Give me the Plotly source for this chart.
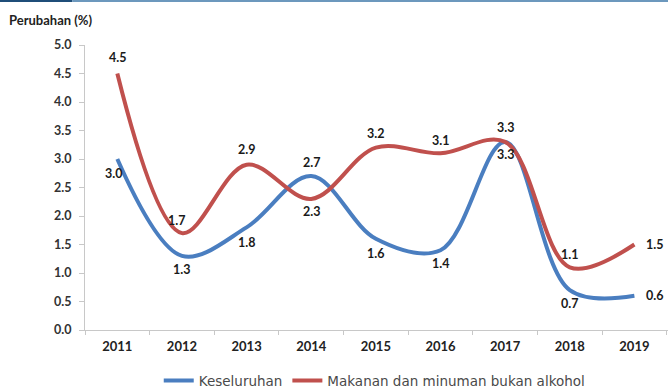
import plotly.graph_objects as go

years = ["2011", "2012", "2013", "2014", "2015", "2016", "2017", "2018", "2019"]
keseluruhan = [3.0, 1.3, 1.8, 2.7, 1.6, 1.4, 3.3, 0.7, 0.6]
makanan = [4.5, 1.7, 2.9, 2.3, 3.2, 3.1, 3.3, 1.1, 1.5]

# label offsets in pixels (dx, dy; dy positive = up)
off_keseluruhan = [(-4, -14), (0, -14), (0, -15), (0, 14), (0, -15), (0, -13), (0, -13), (0, -13), (20, 0)]
off_makanan = [(0, 16), (-5, 13), (0, 15), (0, -13), (0, 14), (0, 13), (0, 14), (0, 13), (20, 0)]

BLUE = "#4A7EC0"
RED = "#C0504D"
FONT = "Lato"

fig = go.Figure()

fig.add_trace(go.Scatter(
  name="Keseluruhan",
  x=years, y=keseluruhan,
  mode="lines",
  line=dict(color=BLUE, width=4, shape="spline", smoothing=1.0),
  cliponaxis=False,
))

fig.add_trace(go.Scatter(
  name="Makanan dan minuman bukan alkohol",
  x=years, y=makanan,
  mode="lines",
  line=dict(color=RED, width=4, shape="spline", smoothing=1.0),
  cliponaxis=False,
))

# value labels (category index used as x so "2011" isn't read as a number)
for vals, offs in [(keseluruhan, off_keseluruhan), (makanan, off_makanan)]:
  for i, (v, (dx, dy)) in enumerate(zip(vals, offs)):
    fig.add_annotation(
      x=i, y=v, text=f"{v:.1f}", showarrow=False,
      xshift=dx, yshift=dy,
      font=dict(family=FONT, size=12.5, color="#1a1a1a", weight="bold"),
    )

fig.update_layout(
  width=668, height=391,
  margin=dict(l=85, r=0, t=45, b=61, autoexpand=False),
  plot_bgcolor="white",
  paper_bgcolor="white",
  font=dict(family=FONT, color="#333333"),
  showlegend=True,
  legend=dict(orientation="h", xref="container", yref="container",
              x=0.561, xanchor="center", y=0.026, yanchor="middle",
              font=dict(family="DejaVu Sans", size=13.5, color="#4a4a4a"),
              itemwidth=30, traceorder="normal"),
)

fig.update_xaxes(
  type="category",
  range=[-0.5, 8.52],
  automargin=False,
  showline=True, linecolor="#C8C8C8", linewidth=1,
  ticks="outside", tickson="boundaries", ticklen=4, tickcolor="#C8C8C8",
  ticklabelstandoff=4,
  showgrid=False,
  tickfont=dict(family=FONT, size=13, color="#222222", weight="bold"),
)

fig.update_yaxes(
  range=[0, 5],
  automargin=False,
  dtick=0.5, tickformat=".1f",
  showline=True, linecolor="#C8C8C8", linewidth=1,
  ticks="outside", ticklen=5, tickcolor="#C8C8C8",
  ticklabelstandoff=5,
  showgrid=False, zeroline=False,
  tickfont=dict(family=FONT, size=12.5, color="#333333", weight="bold"),
)

# title at the top-left
fig.add_annotation(
  text="Perubahan (%)", xref="paper", yref="paper",
  x=-0.134, y=1.088, xanchor="left", yanchor="middle", showarrow=False,
  font=dict(family=FONT, size=13, color="#222222", weight="bold"),
)

# thin band along the top edge
fig.add_shape(type="rect", xref="paper", yref="paper",
              x0=-0.146, x1=-0.022, y0=1.151, y1=1.158,
              fillcolor="#1F4E79", line_width=0)
fig.add_shape(type="rect", xref="paper", yref="paper",
              x0=-0.022, x1=1.0, y0=1.151, y1=1.158,
              fillcolor="#6C98BD", line_width=0)

fig.write_html("out.html", config={"displayModeBar": False},
               post_script="document.body.style.margin='0';")
